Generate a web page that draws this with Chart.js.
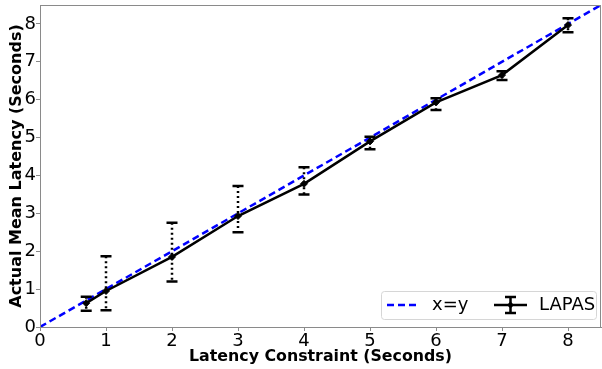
<!DOCTYPE html>
<html>
<head>
<meta charset="utf-8">
<script src="https://cdn.jsdelivr.net/npm/chart.js@4"></script>
<style>
  html, body { margin: 0; padding: 0; background: #fff; }
  #wrap { width: 602px; height: 369px; }
</style>
</head>
<body>
<div id="wrap"><canvas id="chart" width="602" height="369"></canvas></div>
<script>
// Datos
const constraints = [0.7, 1, 2, 3, 4, 5, 6, 7, 8];
const meanLatency = [0.63, 0.95, 1.85, 2.93, 3.78, 4.9, 5.93, 6.65, 7.97];
const errLow = [0.43, 0.44, 1.2, 2.5, 3.5, 4.69, 5.73, 6.52, 7.78];
const errHigh = [0.8, 1.87, 2.75, 3.72, 4.22, 5.02, 6.04, 6.75, 8.15];
const diagX = [0, 8.5];
const xTicks = [0, 1, 2, 3, 4, 5, 6, 7, 8];
const yTicks = [0, 1, 2, 3, 4, 5, 6, 7, 8];

const FONT = "'DejaVu Sans', sans-serif";
const SPINE = "#8a8a8a";

// Plugin: barras de error (línea punteada + tapas sólidas)
const errorBars = {
  id: "errorBars",
  afterDatasetsDraw(chart) {
    const ctx = chart.ctx;
    const xs = chart.scales.x;
    const ys = chart.scales.y;
    ctx.save();
    ctx.strokeStyle = "#000";
    ctx.lineWidth = 2.5;
    constraints.forEach((c, i) => {
      const px = xs.getPixelForValue(c);
      const top = ys.getPixelForValue(errHigh[i]);
      const bot = ys.getPixelForValue(errLow[i]);
      ctx.setLineDash([2, 3]);
      ctx.beginPath();
      ctx.moveTo(px, top);
      ctx.lineTo(px, bot);
      ctx.stroke();
      ctx.setLineDash([]);
      ctx.beginPath();
      ctx.moveTo(px - 5.5, top);
      ctx.lineTo(px + 5.5, top);
      ctx.moveTo(px - 5.5, bot);
      ctx.lineTo(px + 5.5, bot);
      ctx.stroke();
    });
    ctx.restore();
  },
};

// Plugin: marco del área y leyenda interna
const frameAndLegend = {
  id: "frameAndLegend",
  afterDraw(chart) {
    const ctx = chart.ctx;
    const a = chart.chartArea;
    ctx.save();
    ctx.strokeStyle = SPINE;
    ctx.lineWidth = 1;
    ctx.strokeRect(a.left + 0.5, a.top + 0.5, a.right - a.left - 1, a.bottom - a.top);

    // caja de la leyenda
    const bx = 381.5, by = 291.5, bw = 215, bh = 28, r = 3;
    ctx.fillStyle = "rgba(255,255,255,0.8)";
    ctx.strokeStyle = "#d6d6d6";
    ctx.beginPath();
    ctx.roundRect(bx, by, bw, bh, r);
    ctx.fill();
    ctx.stroke();

    const cy = 305;
    // x=y
    ctx.strokeStyle = "#0000ff";
    ctx.lineWidth = 2.5;
    ctx.setLineDash([7, 4]);
    ctx.beginPath();
    ctx.moveTo(387, cy);
    ctx.lineTo(419, cy);
    ctx.stroke();
    ctx.setLineDash([]);

    ctx.fillStyle = "#000";
    ctx.font = "18px " + FONT;
    ctx.textBaseline = "middle";
    ctx.fillText("x=y", 432, cy);

    // LAPAS
    ctx.strokeStyle = "#000";
    ctx.lineWidth = 2.5;
    ctx.beginPath();
    ctx.moveTo(494, cy);
    ctx.lineTo(527, cy);
    ctx.moveTo(510.5, cy - 8);
    ctx.lineTo(510.5, cy + 8);
    ctx.moveTo(505, cy - 8);
    ctx.lineTo(516, cy - 8);
    ctx.moveTo(505, cy + 8);
    ctx.lineTo(516, cy + 8);
    ctx.stroke();
    ctx.fillStyle = "#000";
    ctx.beginPath();
    ctx.moveTo(510.5, cy - 3.5);
    ctx.lineTo(514, cy);
    ctx.lineTo(510.5, cy + 3.5);
    ctx.lineTo(507, cy);
    ctx.closePath();
    ctx.fill();
    ctx.fillText("LAPAS", 539, cy);
    ctx.restore();
  },
};

new Chart(document.getElementById("chart").getContext("2d"), {
  type: "scatter",
  data: {
    datasets: [
      {
        label: "x=y",
        data: diagX.map((v) => ({ x: v, y: v })),
        showLine: true,
        borderColor: "#0000ff",
        borderWidth: 2.5,
        borderDash: [7, 4],
        pointRadius: 0,
        order: 2,
      },
      {
        label: "LAPAS",
        data: constraints.map((c, i) => ({ x: c, y: meanLatency[i] })),
        showLine: true,
        borderColor: "#000",
        backgroundColor: "#000",
        borderWidth: 2.5,
        pointStyle: "rectRot",
        pointRadius: 3.5,
        pointBorderWidth: 1,
        order: 1,
      },
    ],
  },
  options: {
    responsive: false,
    animation: false,
    devicePixelRatio: 1,
    layout: { autoPadding: false, padding: { top: 5, right: 1, left: 0, bottom: 0 } },
    plugins: {
      legend: { display: false },
      tooltip: { enabled: false },
    },
    scales: {
      x: {
        type: "linear",
        min: 0,
        max: 8.5,
        afterFit(scale) {
          scale.height = 42;
          scale.paddingLeft = 0;
          scale.paddingRight = 0;
        },
        afterBuildTicks(scale) {
          scale.ticks = xTicks.map((v) => ({ value: v }));
        },
        grid: {
          drawOnChartArea: false,
          drawTicks: true,
          tickLength: 4,
          color: SPINE,
        },
        border: { color: SPINE },
        ticks: {
          color: "#000",
          padding: 0,
          font: { family: FONT, size: 18 },
        },
        title: {
          display: true,
          text: "Latency Constraint (Seconds)",
          color: "#000",
          font: { family: FONT, size: 15.8, weight: "bold" },
          padding: { top: 0, bottom: 3 },
        },
      },
      y: {
        type: "linear",
        min: 0,
        max: 8.5,
        afterFit(scale) {
          scale.width = 40;
          scale.paddingTop = 0;
          scale.paddingBottom = 0;
        },
        afterBuildTicks(scale) {
          scale.ticks = yTicks.map((v) => ({ value: v }));
        },
        grid: {
          drawOnChartArea: false,
          drawTicks: true,
          tickLength: 4,
          color: SPINE,
        },
        border: { color: SPINE },
        ticks: {
          color: "#000",
          padding: 0,
          font: { family: FONT, size: 18 },
        },
        title: {
          display: true,
          text: "Actual Mean Latency (Seconds)",
          color: "#000",
          font: { family: FONT, size: 16, weight: "bold" },
          padding: { top: 7, bottom: 0 },
        },
      },
    },
  },
  plugins: [errorBars, frameAndLegend],
});
</script>
</body>
</html>
